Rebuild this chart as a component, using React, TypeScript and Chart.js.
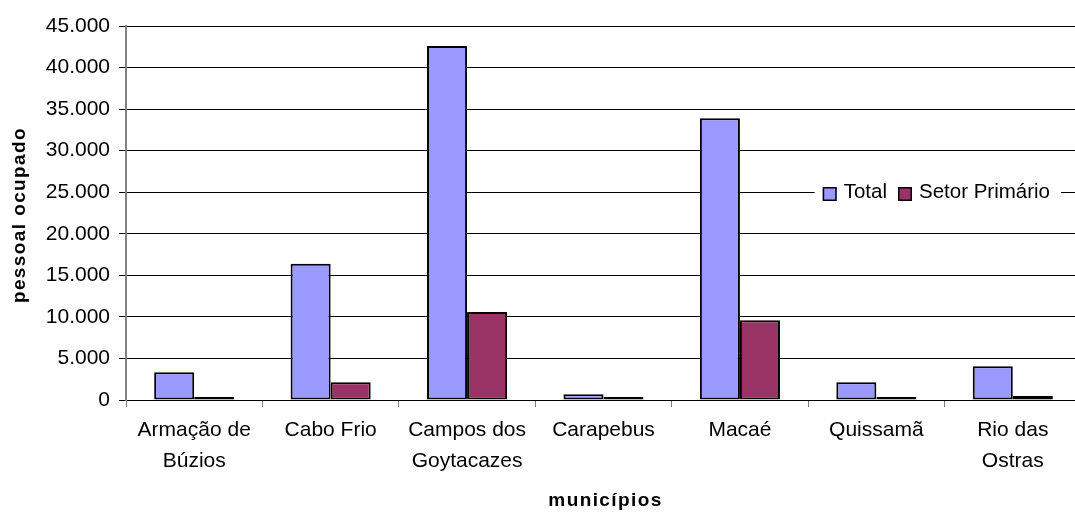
import { useEffect, useRef } from 'react';
import { Chart, registerables, type Plugin } from 'chart.js';

Chart.register(...registerables);

// Categories (multi-line labels are arrays)
const municipios: (string | string[])[] = [
  ['Armação de', 'Búzios'],
  'Cabo Frio',
  ['Campos dos', 'Goytacazes'],
  'Carapebus',
  'Macaé',
  'Quissamã',
  ['Rio das', 'Ostras'],
];

// Employed persons per municipality
const total = [3350, 16400, 42600, 700, 33900, 2150, 4050];
const setorPrimario = [250, 2150, 10600, 250, 9600, 200, 480];

const seriesLabels = ['Total', 'Setor Primário'];
const seriesColors = ['#9999FF', '#993366'];

const yTicksMax = 45000;
const yTicksStep = 5000;

const yAxisTitle = 'pessoal ocupado';
const xAxisTitle = 'municípios';

const FONT = "'Liberation Sans', Arial, Helvetica, sans-serif";

const formatThousands = (v: number) =>
  String(Math.round(v)).replace(/\B(?=(\d{3})+(?!\d))/g, '.');

// Axis titles drawn with a little letter spacing
const axisTitles: Plugin<'bar'> = {
  id: 'axisTitles',
  afterDraw(chart) {
    const { ctx, chartArea } = chart;
    ctx.save();
    ctx.fillStyle = '#000';
    ctx.font = `bold 19px ${FONT}`;
    (ctx as any).letterSpacing = '1.4px';
    ctx.textAlign = 'center';
    ctx.textBaseline = 'middle';
    ctx.fillText(xAxisTitle, (chartArea.left + chartArea.right) / 2 + 2, chart.height - 12);
    ctx.translate(20, (chartArea.top + chartArea.bottom) / 2 + 2);
    ctx.rotate(-Math.PI / 2);
    ctx.fillText(yAxisTitle, 0, 0);
    ctx.restore();
  },
};

// Horizontal legend placed inside the plot area, on a white background
const insideLegend: Plugin<'bar'> = {
  id: 'insideLegend',
  afterDraw(chart) {
    const { ctx, chartArea } = chart;
    ctx.save();
    ctx.font = `20.5px ${FONT}`;
    const items = chart.data.datasets.map((ds) => ({
      text: String(ds.label),
      color: String(ds.backgroundColor),
      w: ctx.measureText(String(ds.label)).width,
    }));
    const padL = 8;
    const padR = 11;
    const box = 14;
    const gapBox = 7;
    const gapItem = 11;
    const width =
      padL +
      padR +
      items.reduce((s, it, i) => s + box + gapBox + it.w + (i ? gapItem : 0), 0);
    const right = chartArea.right - 20;
    const left = right - width;
    const top = chartArea.top + 152;
    ctx.fillStyle = '#fff';
    ctx.fillRect(left, top, width, 31);
    const boxTop = chartArea.top + 161;
    const baseline = chartArea.top + 172;
    let x = left + padL;
    items.forEach((it, i) => {
      if (i) x += gapItem;
      ctx.fillStyle = it.color;
      ctx.fillRect(x, boxTop, box, box);
      ctx.strokeStyle = '#000';
      ctx.lineWidth = 1.5;
      ctx.strokeRect(x + 0.75, boxTop + 0.75, box - 1.5, box - 1.5);
      x += box + gapBox;
      ctx.fillStyle = '#000';
      ctx.textAlign = 'left';
      ctx.textBaseline = 'alphabetic';
      ctx.fillText(it.text, x, baseline);
      x += it.w;
    });
    ctx.restore();
  },
};

export default function App() {
  const canvasRef = useRef<HTMLCanvasElement>(null);

  useEffect(() => {
    const canvas = canvasRef.current;
    if (!canvas) return;
    const chart = new Chart(canvas, {
      type: 'bar',
      data: {
        labels: municipios,
        datasets: [
          {
            label: seriesLabels[0],
            data: total,
            backgroundColor: seriesColors[0],
            borderColor: '#000',
            borderWidth: 2,
            borderSkipped: false,
            minBarLength: 3,
          },
          {
            label: seriesLabels[1],
            data: setorPrimario,
            backgroundColor: seriesColors[1],
            borderColor: '#000',
            borderWidth: 2,
            borderSkipped: false,
            minBarLength: 3,
          },
        ],
      },
      options: {
        responsive: false,
        animation: false,
        devicePixelRatio: 1,
        layout: { padding: { top: 26, right: 9, left: 0, bottom: 0 } },
        plugins: {
          legend: { display: false },
          tooltip: { enabled: false },
        },
        datasets: {
          bar: { categoryPercentage: 0.587, barPercentage: 1 },
        },
        scales: {
          x: {
            grid: {
              display: true,
              drawOnChartArea: false,
              drawTicks: true,
              tickLength: 7,
              color: '#808080',
              offset: true,
            },
            border: { display: true, color: '#000', width: 1 },
            ticks: {
              color: '#000',
              font: { family: FONT, size: 21, lineHeight: 1.48 },
              padding: 8,
              maxRotation: 0,
              autoSkip: false,
            },
            afterFit: (s) => {
              s.height = 113;
            },
          },
          y: {
            min: 0,
            max: yTicksMax,
            ticks: {
              stepSize: yTicksStep,
              color: '#000',
              font: { family: FONT, size: 21 },
              padding: 9,
              callback: (v) => formatThousands(Number(v)),
            },
            grid: { color: '#000', lineWidth: 1, tickLength: 7, drawTicks: true },
            border: { display: true, color: '#808080', width: 2 },
            afterFit: (s) => {
              s.width = 126;
            },
          },
        },
      },
      plugins: [insideLegend, axisTitles],
    });
    return () => chart.destroy();
  }, []);

  return (
    <div style={{ position: 'fixed', left: 0, top: 0, width: 1090, height: 513, background: '#fff' }}>
      <canvas
        ref={canvasRef}
        width={1090}
        height={513}
        style={{ display: 'block', width: 1090, height: 513 }}
      />
    </div>
  );
}
